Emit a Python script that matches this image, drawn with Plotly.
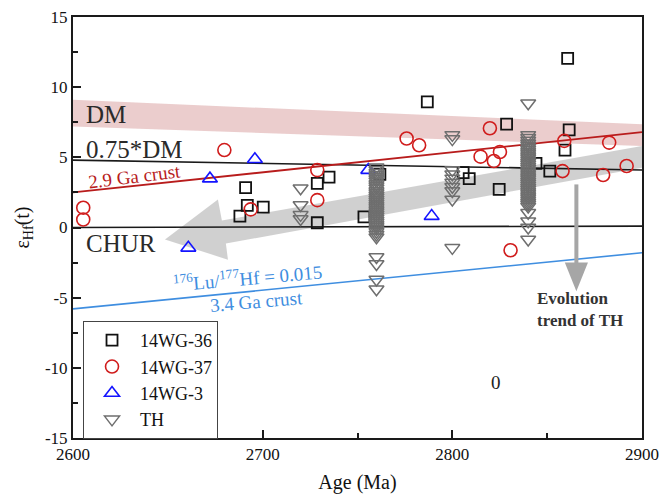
import plotly.graph_objects as go

# ---------------- data ----------------
wg36_age = [2688.0, 2691.0, 2691.9, 2700.3, 2728.8, 2735.0, 2728.8, 2753.4, 2761.8, 2786.8,
            2805.7, 2808.9, 2824.7, 2828.6, 2844.1, 2851.4, 2859.4, 2861.6, 2860.8]
wg36_eps = [0.81, 2.84, 1.57, 1.45, 3.14, 3.59, 0.34, 0.76, 3.79, 8.95,
            3.91, 3.48, 2.71, 7.36, 4.57, 4.02, 5.52, 6.95, 12.05]

wg37_age = [2605.4, 2605.4, 2679.8, 2693.7, 2728.8, 2728.8, 2775.9, 2782.5, 2819.8, 2814.9,
            2821.9, 2825.1, 2859.0, 2858.1, 2882.7, 2879.5, 2891.9, 2830.7]
wg37_eps = [1.41, 0.57, 5.52, 1.29, 4.09, 1.95, 6.34, 5.86, 7.07, 5.05,
            4.74, 5.38, 6.17, 4.02, 6.05, 3.74, 4.38, -1.62]

wg3_age = [2695.9, 2672.2, 2660.8, 2789.1, 2755.7]
wg3_eps = [4.86, 3.48, -1.45, 0.81, 4.09]

th_age = ([2720] * 4
          + [2760] * 36
          + [2800] * 10
          + [2840] * 39)
th_eps = ([2.8, 1.6, 0.9, 0.6]
          + [4.3, 4.1, 3.9, 3.75, 3.6, 3.45, 3.3, 3.1, 2.95, 2.8, 2.6, 2.45, 2.3, 2.15, 2.0, 1.85,
             1.7, 1.55, 1.4, 1.25, 1.1, 0.95, 0.8, 0.65, 0.5, 0.35, 0.2, 0.05, -0.1, -0.3, -0.5,
             -0.7, -2.1, -2.6, -3.7, -4.4]
          + [6.6, 6.3, 4.1, 3.8, 3.5, 3.2, 2.9, 2.6, 2.0, -1.45]
          + [8.85, 6.6, 6.4, 6.2, 6.0, 5.85, 5.7, 5.55, 5.4, 5.25, 5.1, 4.95, 4.8, 4.65, 4.5,
             4.35, 4.2, 4.05, 3.9, 3.75, 3.6, 3.45, 3.3, 3.15, 3.0, 2.85, 2.7, 2.55, 2.4, 2.25,
             2.1, 1.95, 1.8, 1.65, 1.5, 1.05, 0.45, 0.0, -0.85])

# reference evolution lines (endpoints at 2600 and 2900 Ma)
line_age = [2600, 2900]
dm075_eps = [4.8, 4.1]
chur_eps = [0.0, 0.1]
crust29_eps = [2.5, 6.8]
crust34_eps = [-5.8, -1.8]
dm_top = [9.1, 7.36]
dm_bot = [7.2, 5.8]

x_ticks = [2600, 2700, 2800, 2900]
y_ticks = [-15, -10, -5, 0, 5, 10, 15]
y_ticktext = ["-15", "-10", "-5", "0", "5", "10", "15"]

SERIF = "Liberation Serif"

fig = go.Figure()

# reference lines
fig.add_trace(go.Scatter(x=line_age, y=dm075_eps, mode="lines",
                         line=dict(color="#1a1a1a", width=1.6), showlegend=False, hoverinfo="skip"))
fig.add_trace(go.Scatter(x=line_age, y=chur_eps, mode="lines",
                         line=dict(color="#1a1a1a", width=1.6), showlegend=False, hoverinfo="skip"))
fig.add_trace(go.Scatter(x=line_age, y=crust29_eps, mode="lines",
                         line=dict(color="#b81c1c", width=1.8), showlegend=False, hoverinfo="skip"))
fig.add_trace(go.Scatter(x=line_age, y=crust34_eps, mode="lines",
                         line=dict(color="#3f8ee0", width=1.6), showlegend=False, hoverinfo="skip"))

# data series
fig.add_trace(go.Scatter(x=wg36_age, y=wg36_eps, mode="markers", name="14WG-36",
                         marker=dict(symbol="square-open", size=11, color="#111111",
                                     line=dict(width=1.8))))
fig.add_trace(go.Scatter(x=wg37_age, y=wg37_eps, mode="markers", name="14WG-37",
                         marker=dict(symbol="circle-open", size=13, color="#d01c1c",
                                     line=dict(width=1.6))))
fig.add_trace(go.Scatter(x=wg3_age, y=wg3_eps, mode="markers", name="14WG-3",
                         marker=dict(symbol="triangle-up-open", size=13, color="#1414ff",
                                     line=dict(width=1.6))))
fig.add_trace(go.Scatter(x=th_age, y=th_eps, mode="markers", name="TH",
                         marker=dict(symbol="triangle-down-open", size=13, color="#6e6e6e",
                                     line=dict(width=1.5))))

shapes = []
# DM band
shapes.append(dict(type="path", xref="x", yref="y", layer="below",
                   path=f"M {line_age[0]} {dm_top[0]} L {line_age[1]} {dm_top[1]} "
                        f"L {line_age[1]} {dm_bot[1]} L {line_age[0]} {dm_bot[0]} Z",
                   fillcolor="rgba(205,130,130,0.40)", line=dict(width=0)))
# big grey arrow (trend)
arrow_pts = [(2648.5, -0.86), (2676.4, 2.0), (2678.5, 0.5), (2900, 5.81),
             (2900, 4.26), (2680.6, -1.14), (2681.7, -2.29)]
shapes.append(dict(type="path", xref="x", yref="y", layer="below",
                   path="M " + " L ".join(f"{a} {b}" for a, b in arrow_pts) + " Z",
                   fillcolor="rgba(200,200,200,0.85)", line=dict(width=0)))
# vertical evolution arrow
ev_x = 2865.4
shapes.append(dict(type="line", xref="x", yref="y", x0=ev_x, x1=ev_x, y0=3.07, y1=-2.6,
                   line=dict(color="#a6a6a6", width=4)))
shapes.append(dict(type="path", xref="x", yref="y",
                   path=f"M {ev_x - 6.1} -2.5 L {ev_x + 6.1} -2.5 L {ev_x} -4.55 Z",
                   fillcolor="#a6a6a6", line=dict(width=0)))

annotations = [
    dict(x=2606.0, y=8.07, text="DM", xanchor="left", yanchor="middle", showarrow=False,
         font=dict(family=SERIF, size=25, color="#2a2a2a")),
    dict(x=2606.0, y=5.57, text="0.75*DM", xanchor="left", yanchor="middle", showarrow=False,
         font=dict(family=SERIF, size=25, color="#2a2a2a")),
    dict(x=2606.0, y=-1.12, text="CHUR", xanchor="left", yanchor="middle", showarrow=False,
         font=dict(family=SERIF, size=25, color="#2a2a2a")),
    dict(x=2632.2, y=3.64, text="2.9 Ga crust", showarrow=False, textangle=-7,
         font=dict(family=SERIF, size=19, color="#b81c1c")),
    dict(x=2692.0, y=-3.55, text="<sup>176</sup>Lu/<sup>177</sup>Hf = 0.015", showarrow=False,
         textangle=-5, font=dict(family=SERIF, size=19, color="#3f8ee0")),
    dict(x=2697.0, y=-5.3, text="3.4 Ga crust", showarrow=False, textangle=-5,
         font=dict(family=SERIF, size=19, color="#3f8ee0")),
    dict(x=2843.5, y=-5.86, text="<b>Evolution<br>trend of TH</b>", showarrow=False,
         xanchor="left", align="left", font=dict(family=SERIF, size=17, color="#333333")),
    dict(x=2822.8, y=-11.05, text="0", showarrow=False,
         font=dict(family=SERIF, size=19, color="#222222")),
]

axis_common = dict(showline=True, linecolor="#1a1a1a", linewidth=2, mirror=True,
                   ticks="inside", ticklen=8, tickwidth=2, tickcolor="#1a1a1a",
                   showgrid=False, zeroline=False, automargin=False,
                   tickfont=dict(family=SERIF, size=17, color="#111111"))

fig.update_layout(
    width=660, height=498,
    margin=dict(l=73, r=18, t=17, b=60),
    plot_bgcolor="white", paper_bgcolor="white",
    shapes=shapes, annotations=annotations,
    xaxis=dict(range=[2600, 2900], tickvals=x_ticks,
               minor=dict(dtick=50, tick0=2600, ticks="inside", ticklen=5, tickwidth=1.5,
                          tickcolor="#1a1a1a"),
               title=dict(text="Age (Ma)", font=dict(family=SERIF, size=20, color="#111111"),
                          standoff=12),
               **axis_common),
    yaxis=dict(range=[-15, 15], tickvals=y_ticks, ticktext=y_ticktext,
               minor=dict(dtick=2.5, tick0=0, ticks="inside", ticklen=5, tickwidth=1.5,
                          tickcolor="#1a1a1a"),
               title=dict(text="ε<sub>Hf</sub>(t)", font=dict(family=SERIF, size=20, color="#111111"),
                          standoff=10),
               **axis_common),
    legend=dict(x=0.0176, y=0.278, xanchor="left", yanchor="top",
                bordercolor="#444444", borderwidth=1, bgcolor="white",
                font=dict(family=SERIF, size=18, color="#111111"),
                tracegroupgap=0, itemwidth=46),
    showlegend=True,
)

fig.write_html("out.html", config={"displayModeBar": False},
               post_script="document.body.style.margin='0';")
